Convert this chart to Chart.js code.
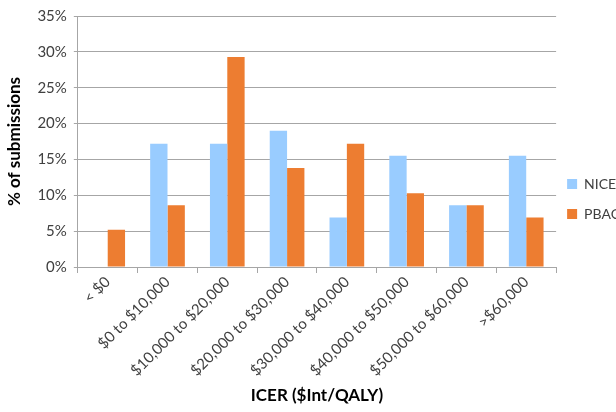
<!DOCTYPE html>
<html>
<head>
<meta charset="utf-8">
<script src="https://cdn.jsdelivr.net/npm/chart.js@4/dist/chart.umd.min.js"></script>
<style>
  html, body { margin: 0; padding: 0; background: #fff; overflow: hidden; }
  #wrap { width: 635px; height: 412px; }
</style>
</head>
<body>
<div id="wrap"><canvas id="c" width="635" height="412"></canvas></div>
<script>
// ICER bands for submitted appraisals
const categories = ['< $0', '$0 to $10,000', '$10,000 to $20,000', '$20,000 to $30,000',
  '$30,000 to $40,000', '$40,000 to $50,000', '$50,000 to $60,000', '>$60,000'];
// share of submissions (%) per band
const niceValues = [0, 17.2, 17.2, 19.0, 6.9, 15.5, 8.6, 15.5];
const pbacValues = [5.2, 8.6, 29.3, 13.8, 17.2, 10.3, 8.6, 6.9];
const yTicks = [0, 5, 10, 15, 20, 25, 30, 35];

const FONT = 'Lato, "Open Sans", sans-serif';
const TEXT = '#404040';
const GRID = '#a6a6a6';

// pull the legend block a little closer to the plot and slightly upward
const legendNudge = {
  id: 'legendNudge',
  afterLayout(chart) {
    const lg = chart.legend;
    if (!lg) return;
    lg.left -= 5; lg.right -= 5;
    lg.top -= 6; lg.bottom -= 6;
  }
};

new Chart(document.getElementById('c'), {
  type: 'bar',
  data: {
    labels: categories,
    datasets: [
      { label: 'NICE', data: niceValues, backgroundColor: '#99ccff',
        categoryPercentage: 0.58, barPercentage: 1.0 },
      { label: 'PBAC', data: pbacValues, backgroundColor: '#ed7d31',
        categoryPercentage: 0.58, barPercentage: 1.0 }
    ]
  },
  plugins: [legendNudge],
  options: {
    responsive: false,
    animation: false,
    devicePixelRatio: 1,
    layout: { padding: { top: 4, left: 4, right: 0, bottom: 6 } },
    plugins: {
      tooltip: { enabled: false },
      legend: {
        position: 'right',
        labels: {
          font: { family: FONT, size: 14 },
          color: TEXT,
          boxWidth: 10,
          boxHeight: 10,
          padding: 16
        }
      }
    },
    scales: {
      x: {
        grid: { display: true, offset: true, drawOnChartArea: false, color: GRID, tickLength: 6 },
        border: { color: GRID },
        ticks: {
          maxRotation: 45, minRotation: 45, color: TEXT, padding: 0,
          font: { family: FONT, size: 15 }
        },
        title: {
          display: true, text: 'ICER ($Int/QALY)', color: '#000',
          font: { family: FONT, size: 17, weight: 'bold' }, padding: { top: 6, bottom: 0 }
        }
      },
      y: {
        min: 0, max: 35,
        afterBuildTicks: (axis) => { axis.ticks = yTicks.map(v => ({ value: v })); },
        grid: { color: GRID, tickLength: 4 },
        border: { color: GRID },
        ticks: {
          color: TEXT, padding: 7,
          font: { family: FONT, size: 15 },
          callback: (v) => v + '%'
        },
        title: {
          display: true, text: '% of submissions', color: '#000',
          font: { family: FONT, size: 17, weight: 'bold' }, padding: { top: 0, bottom: 6 }
        }
      }
    }
  }
});
</script>
</body>
</html>
